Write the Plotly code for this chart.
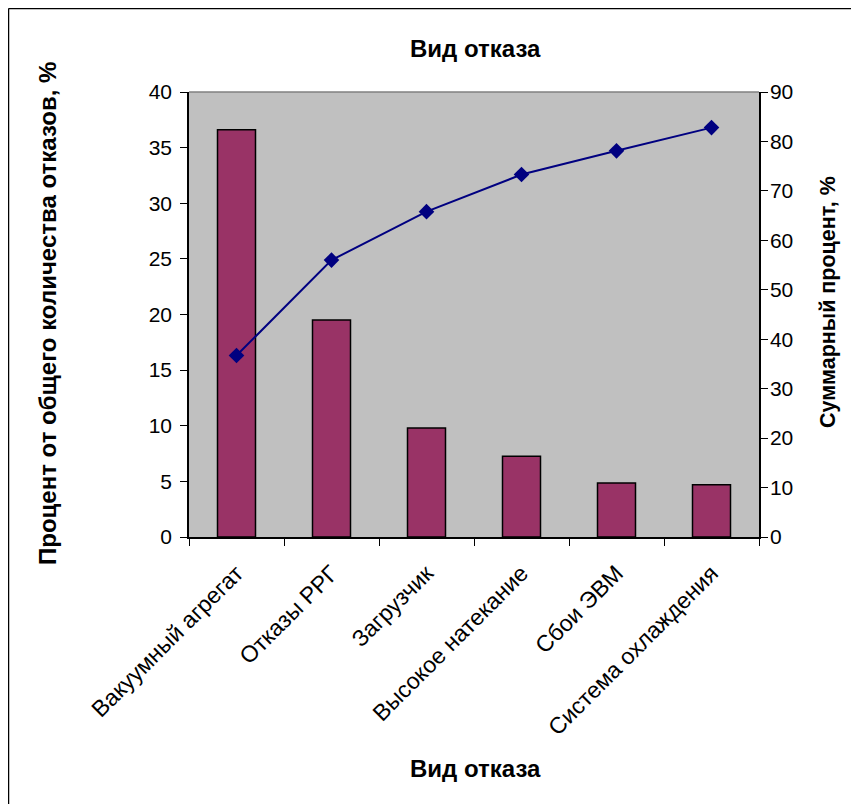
import plotly.graph_objects as go

categories = ["Вакуумный агрегат", "Отказы РРГ", "Загрузчик",
              "Высокое натекание", "Сбои ЭВМ", "Система охлаждения"]
percent_values = [36.6, 19.5, 9.8, 7.25, 4.85, 4.7]
cumulative_values = [36.7, 56.0, 65.8, 73.3, 78.1, 82.8]

title_text = "Вид отказа"
x_title = "Вид отказа"
y_left_title = "Процент от общего количества отказов, %"
y_right_title = "Суммарный процент, %"

OFF = 8  # page body margin
W, H = 851, 796
L, R, T, B = 181, 100, 84, 267
PW, PH = W - L - R, H - T - B


def px(xp):  # page pixel -> paper
    return (xp - OFF - L) / PW


def py(yp):
    return (H - B - (yp - OFF)) / PH


FONT = "Liberation Sans, Arial, sans-serif"
XTICKFONT = dict(family=FONT, size=23, color="black")
YTICKFONT = dict(family=FONT, size=21, color="black")

fig = go.Figure()
fig.add_trace(go.Bar(
    x=categories, y=percent_values, width=0.4,
    marker=dict(color="#993366", line=dict(color="black", width=1.5)),
    xaxis="x", yaxis="y", showlegend=False,
))
fig.add_trace(go.Scatter(
    x=categories, y=cumulative_values, mode="lines+markers",
    line=dict(color="#000080", width=2),
    marker=dict(symbol="diamond", size=12, color="#000080"),
    xaxis="x", yaxis="y2", showlegend=False,
))

fig.update_layout(
    width=W, height=H,
    margin=dict(l=L, r=R, t=T, b=B, pad=0),
    paper_bgcolor="white", plot_bgcolor="#C0C0C0",
    font=dict(family=FONT, color="black"),
    bargap=0.6,
    xaxis=dict(
        type="category", categoryorder="array", categoryarray=categories,
        tickson="boundaries", ticks="outside", ticklen=7, tickcolor="black",
        showline=True, linecolor="black", linewidth=1.5,
        showgrid=False, zeroline=False, tickangle=-45,
        tickfont=XTICKFONT, ticklabelstandoff=12,
        range=[-0.5, 5.5],
    ),
    xaxis2=dict(
        overlaying="x", anchor="y", range=[-0.5, 5.5],
        tickmode="array", tickvals=[-0.5, 0.5, 1.5, 2.5, 3.5, 4.5, 5.5],
        ticks="inside", ticklen=7, tickcolor="black",
        showticklabels=False, showgrid=False, zeroline=False, showline=False,
    ),
    yaxis=dict(
        range=[0, 40], dtick=5, ticks="outside", ticklen=7, tickcolor="black",
        showline=True, linecolor="black", linewidth=1.5,
        showgrid=False, zeroline=False, tickfont=YTICKFONT,
        ticklabelstandoff=4,
    ),
    yaxis2=dict(
        overlaying="y", side="right", anchor="x",
        range=[0, 90], dtick=10, ticks="outside", ticklen=7, tickcolor="black",
        showline=True, linecolor="black", linewidth=1.5,
        showgrid=False, zeroline=False, tickfont=YTICKFONT,
        ticklabelstandoff=-2,
    ),
    yaxis3=dict(
        overlaying="y", side="left", anchor="x",
        range=[0, 40], dtick=5, ticks="inside", ticklen=7, tickcolor="black",
        showticklabels=False, showgrid=False, zeroline=False, showline=False,
    ),
    yaxis4=dict(
        overlaying="y", side="right", anchor="x",
        range=[0, 90], dtick=10, ticks="inside", ticklen=7, tickcolor="black",
        showticklabels=False, showgrid=False, zeroline=False, showline=False,
    ),
    shapes=[
        dict(type="line", xref="paper", yref="paper", x0=0, x1=1, y0=1, y1=1,
             line=dict(color="#808080", width=1.5)),
        dict(type="line", xref="paper", yref="paper",
             x0=px(8.5), x1=px(W + 20), y0=py(8.5), y1=py(8.5),
             line=dict(color="black", width=1.5)),
        dict(type="line", xref="paper", yref="paper",
             x0=px(8.5), x1=px(8.5), y0=py(8.5), y1=py(H + 20),
             line=dict(color="black", width=1.5)),
    ],
    annotations=[
        dict(text=f"<b>{title_text}</b>", xref="paper", yref="paper",
             x=px(475), y=py(49), xanchor="center", yanchor="middle",
             showarrow=False, font=dict(family=FONT, size=24, color="black")),
        dict(text=f"<b>{x_title}</b>", xref="paper", yref="paper",
             x=px(475), y=py(768), xanchor="center", yanchor="middle",
             showarrow=False, font=dict(family=FONT, size=24, color="black")),
        dict(text=f"<b>{y_left_title}</b>", xref="paper", yref="paper",
             x=px(47), y=py(314), xanchor="center", yanchor="middle",
             textangle=-90, showarrow=False,
             font=dict(family=FONT, size=24, color="black")),
        dict(text=f"<b>{y_right_title}</b>", xref="paper", yref="paper",
             x=px(828), y=py(302), xanchor="center", yanchor="middle",
             textangle=-90, showarrow=False,
             font=dict(family=FONT, size=21.5, color="black")),
    ],
)

fig.write_html("out.html")
